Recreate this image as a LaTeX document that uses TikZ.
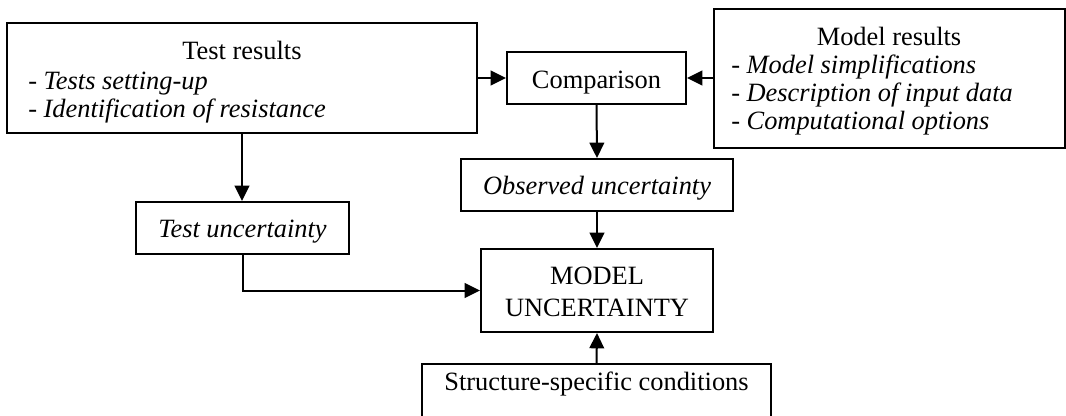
\documentclass[tikz,border=0pt]{standalone}
\usepackage{fontspec}
\setmainfont{Liberation Serif}
\usetikzlibrary{arrows.meta}
\tikzset{
  box/.style={draw, line width=1.5pt, rectangle, inner sep=0pt},
  txt/.style={inner sep=0pt, font=\fontsize{19.8}{21}\selectfont},
  conn/.style={line width=1.5pt, -{Triangle[length=11.5pt,width=11pt]}}
}
\begin{document}
\begin{tikzpicture}[x=0.75pt,y=-0.75pt]
\useasboundingbox (0,0) rectangle (1066,415);
\clip (0,0) rectangle (1066,415);
% boxes
\node[box, minimum width=470*0.75pt, minimum height=110*0.75pt] (test) at (242,78) {};
\node[box, minimum width=179*0.75pt, minimum height=52*0.75pt] (comp) at (596.5,78) {};
\node[box, minimum width=351*0.75pt, minimum height=139*0.75pt] (model) at (889,78.5) {};
\node[box, minimum width=272*0.75pt, minimum height=52*0.75pt] (obs) at (597,185) {};
\node[box, minimum width=213*0.75pt, minimum height=52*0.75pt] (testunc) at (242.5,228) {};
\node[box, minimum width=232*0.75pt, minimum height=83*0.75pt] (mu) at (597,290.5) {};
\node[box, minimum width=349*0.75pt, minimum height=80*0.75pt] (struct) at (596.5,404) {};
% texts
\node[txt, anchor=base] (testT) at (242,59.5) {Test results};
\node[txt, anchor=base west] (testA) at (28,89) {- \textit{Tests setting-up}};
\node[txt, anchor=base west] (testB) at (28,117) {- \textit{Identification of resistance}};
\node[txt, anchor=base] (compT) at (596.5,88) {Comparison};
\node[txt, anchor=base] (modelT) at (889,45) {Model results};
\node[txt, anchor=base west] (modelA) at (731,73) {- \textit{Model simplifications}};
\node[txt, anchor=base west] (modelB) at (731,101) {- \textit{Description of input data}};
\node[txt, anchor=base west] (modelC) at (731,129) {- \textit{Computational options}};
\node[txt, anchor=base] (obsT) at (597,194) {\textit{Observed uncertainty}};
\node[txt, anchor=base] (testuncT) at (242.5,237) {\textit{Test uncertainty}};
\node[txt, anchor=base] (muA) at (597,284.5) {MODEL};
\node[txt, anchor=base] (muB) at (597,316.5) {UNCERTAINTY};
\node[txt, anchor=base] (structT) at (596.5,390) {Structure-specific conditions};
% connectors
\draw[conn] (test.east |- comp.west) -- (comp.west);
\draw[conn] (model.west |- comp.east) -- (comp.east);
\draw[conn] (comp.south) -- (obs.north);
\draw[conn] (test.south) -- (test.south |- testunc.north);
\draw[conn] (testunc.south) |- (mu.west);
\draw[conn] (obs.south) -- (mu.north);
\draw[conn] (struct.north) -- (mu.south);
\end{tikzpicture}
\end{document}
